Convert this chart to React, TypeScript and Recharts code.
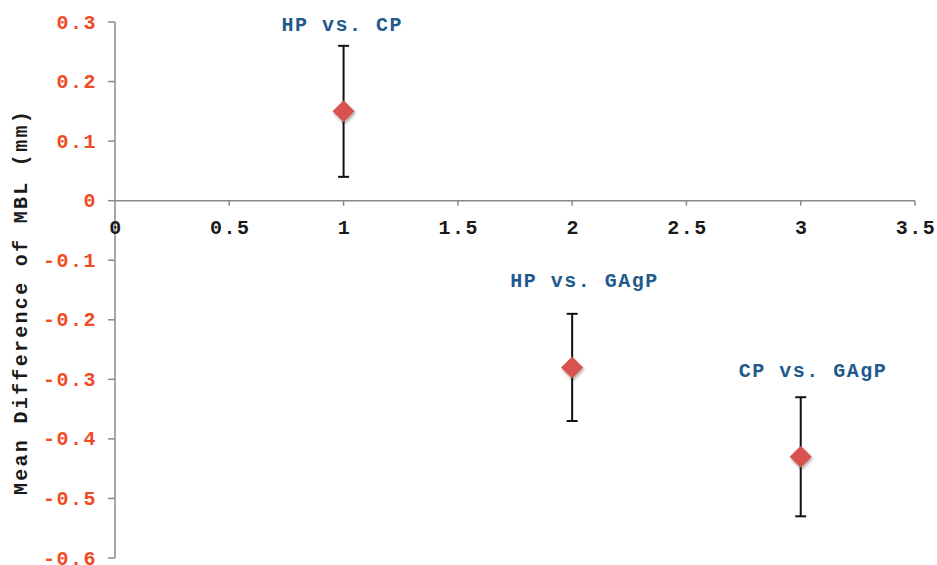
import { ErrorBar, ReferenceLine, Scatter, ScatterChart, XAxis, YAxis } from 'recharts';

const comparisons = ['HP vs. CP', 'HP vs. GAgP', 'CP vs. GAgP'];
const positions = [1, 2, 3];
const meanDiffs = [0.15, -0.28, -0.43];
const errors = [0.11, 0.09, 0.1];

const xTicks = [0, 0.5, 1, 1.5, 2, 2.5, 3, 3.5];
const yTicks = [0.3, 0.2, 0.1, 0, -0.1, -0.2, -0.3, -0.4, -0.5, -0.6];

const data = comparisons.map((name, i) => ({ name, x: positions[i], y: meanDiffs[i], err: errors[i] }));

const W = 937;
const H = 565;
const MARGIN = { top: 22, right: 22, bottom: 0, left: 0 };
const X_AXIS_H = 7;
const Y_AXIS_W = 115;
const Y_MIN = -0.6;
const Y_MAX = 0.3;

// x axis is drawn through y = 0, so shift the bottom ticks up
const plotH = H - MARGIN.top - MARGIN.bottom - X_AXIS_H;
const zeroY = MARGIN.top + ((Y_MAX - 0) / (Y_MAX - Y_MIN)) * plotH;

const FONT = '"Liberation Mono", "Courier New", monospace';
const AXIS_GRAY = '#8a8a8a';

function XTick({ x, payload }: any) {
  return (
    <g>
      {payload.value !== 0 && <line x1={x} x2={x} y1={zeroY} y2={zeroY + 5} stroke={AXIS_GRAY} strokeWidth={1.5} />}
      <text x={x + 1} y={zeroY + 33} textAnchor="middle" fontFamily={FONT} fontWeight="bold" fontSize={20} letterSpacing={1.5} fill="#1a1a1a">
        {payload.value}
      </text>
    </g>
  );
}

function YTick({ x, y, payload }: any) {
  return (
    <text x={x + 1} y={y + 6.5} textAnchor="end" fontFamily={FONT} fontWeight="bold" fontSize={20} letterSpacing={1.5} fill="#f04a23">
      {payload.value}
    </text>
  );
}

function YLabel({ viewBox }: any) {
  const cx = viewBox.x + 27;
  const cy = viewBox.y + viewBox.height / 2 + 12;
  return (
    <text x={cx} y={cy} transform={`rotate(-90, ${cx}, ${cy})`} textAnchor="middle" fontFamily={FONT} fontWeight="bold" fontSize={20} letterSpacing={2.3} fill="#1a1a1a">
      Mean Difference of MBL (mm)
    </text>
  );
}

function Diamond({ cx, cy, payload }: any) {
  const r = 11;
  return (
    <g>
      <polygon points={`${cx},${cy - r} ${cx + r},${cy} ${cx},${cy + r} ${cx - r},${cy}`} fill="#d8524f" filter="url(#dshadow)" />
      <text x={cx - 62} y={cy - 80} textAnchor="start" fontFamily={FONT} fontWeight="bold" fontSize={20} letterSpacing={1.5} fill="#1f5a8c">
        {payload.name}
      </text>
    </g>
  );
}

export default function App() {
  return (
    <div style={{ width: W, height: H, background: '#fff' }}>
      <style>{`body { margin: 0; overflow: hidden; }`}</style>
      <ScatterChart width={W} height={H} margin={MARGIN}>
        <defs>
          <filter id="dshadow" x="-50%" y="-50%" width="200%" height="200%">
            <feDropShadow dx={1} dy={2} stdDeviation={1.5} floodColor="#000" floodOpacity={0.35} />
          </filter>
        </defs>
        <XAxis
          type="number"
          dataKey="x"
          domain={[0, 3.5]}
          ticks={xTicks}
          height={X_AXIS_H}
          axisLine={false}
          tickLine={false}
          tick={<XTick />}
          interval={0}
        />
        <YAxis
          type="number"
          dataKey="y"
          domain={[Y_MIN, Y_MAX]}
          ticks={yTicks}
          width={Y_AXIS_W}
          axisLine={{ stroke: AXIS_GRAY, strokeWidth: 1.5 }}
          tickLine={{ stroke: AXIS_GRAY, strokeWidth: 1.5 }}
          tickSize={7}
          tickMargin={12}
          tick={<YTick />}
          interval={0}
          label={<YLabel />}
        />
        <ReferenceLine y={0} stroke={AXIS_GRAY} strokeWidth={1.5} />
        <Scatter data={data} shape={<Diamond />} isAnimationActive={false}>
          <ErrorBar dataKey="err" direction="y" width={5.5} stroke="#111" strokeWidth={2} isAnimationActive={false} />
        </Scatter>
      </ScatterChart>
    </div>
  );
}
